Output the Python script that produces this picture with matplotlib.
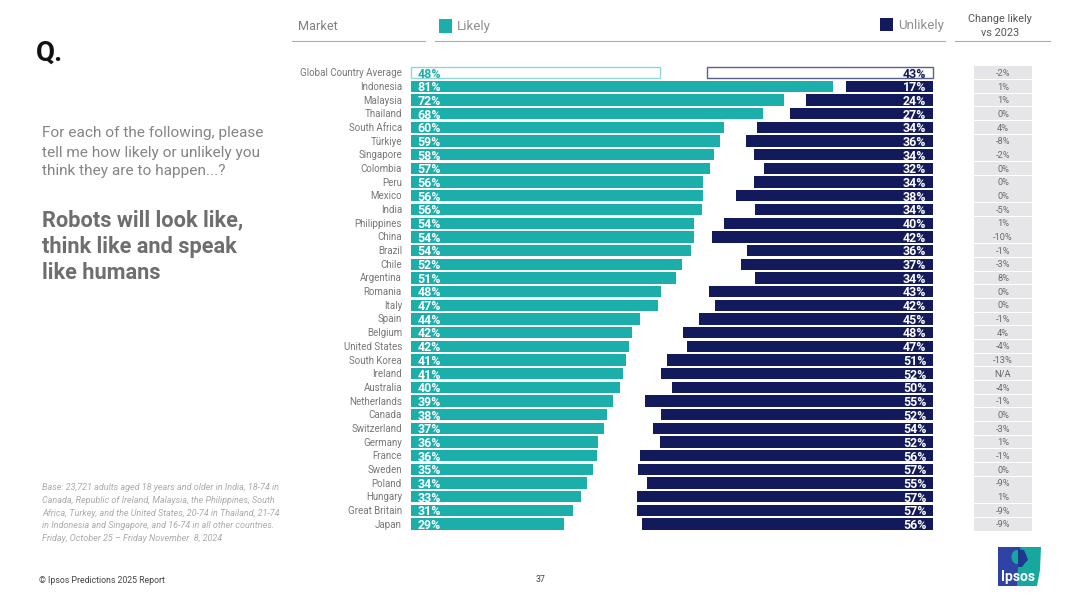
import matplotlib
matplotlib.use("Agg")
import matplotlib.pyplot as plt
from matplotlib.patches import Rectangle, Polygon, Ellipse

markets = ["Global Country Average","Indonesia","Malaysia","Thailand","South Africa","Türkiye","Singapore","Colombia","Peru","Mexico","India","Philippines","China","Brazil","Chile","Argentina","Romania","Italy","Spain","Belgium","United States","South Korea","Ireland","Australia","Netherlands","Canada","Switzerland","Germany","France","Sweden","Poland","Hungary","Great Britain","Japan"]
likely = [47.8,81.0,71.6,67.6,60.1,59.3,58.2,57.4,56.0,56.0,55.8,54.3,54.3,53.7,52.0,50.9,48.0,47.45,44.0,42.4,41.8,41.3,40.6,40.1,38.8,37.6,37.0,35.9,35.7,34.9,33.8,32.6,31.1,29.3]
unlikely = [43.4,16.7,24.4,27.45,33.8,35.9,34.4,32.4,34.4,37.8,34.2,40.1,42.4,35.7,36.9,34.2,43.0,41.8,44.9,48.0,47.2,51.0,52.2,50.1,55.3,52.2,53.7,52.4,56.2,56.6,54.9,56.8,56.8,55.9]
change = ["-2%","1%","1%","0%","4%","-8%","-2%","0%","0%","0%","-5%","1%","-10%","-1%","-3%","8%","0%","0%","-1%","4%","-4%","-13%","N/A","-4%","-1%","0%","-3%","1%","-1%","0%","-9%","1%","-9%","-9%"]

TEAL = "#1CAEAB"; NAVY = "#131A5B"
W, H = 1080, 607
plt.rcParams['font.family'] = ['Roboto', 'DejaVu Sans']
fig = plt.figure(figsize=(W/100, H/100), dpi=100)

def mkax(x0, x1, xlim):
    ax = fig.add_axes([x0/W, 1-531/H, (x1-x0)/W, (531-66)/H])
    ax.set_xlim(*xlim)
    # row i sits at pixel 72.7 + 13.68*i
    ax.set_ylim((531-72.7)/13.68, (66-72.7)/13.68)
    ax.axis("off")
    return ax

SCALE = 5.21
axC = mkax(974, 1032, (0, 1))
axL = mkax(411, 411+SCALE*100, (0, 100))
axU = mkax(933-SCALE*100, 933, (100, 0))
rows = range(len(markets))
for i in rows:
    first = i == 0
    axL.barh(i, likely[i], height=11.3/13.68, facecolor="white" if first else TEAL,
             edgecolor="#8fd8d6" if first else TEAL, linewidth=1 if first else 0, clip_on=False)
    axU.barh(i, unlikely[i], height=11.3/13.68, facecolor="white" if first else NAVY,
             edgecolor="#5a5f8c" if first else NAVY, linewidth=1 if first else 0, clip_on=False)
    axL.text(1.3, i+0.1, f"{likely[i]:.0f}%", color=TEAL if first else "white", va="center", ha="left",
             fontsize=8.9, fontweight="bold", clip_on=False)
    axU.text(1.3, i+0.1, f"{unlikely[i]:.0f}%", color=NAVY if first else "white", va="center", ha="right",
             fontsize=8.9, fontweight="bold", clip_on=False)
    axL.annotate(markets[i], (0, i+0.04), xytext=(-9, 0), textcoords="offset pixels", ha="right", va="center",
                 fontsize=7.0, color="#777777", annotation_clip=False)
    axC.barh(i, 1, height=12.8/13.68, color="#E6E6E9", linewidth=0)
    axC.text(0.5, i+0.05, change[i], ha="center", va="center", fontsize=6.7, color="#6a6a6a")

def T(x, y, s, **kw):
    kw.setdefault("va", "center")
    return fig.text(x/W, 1-y/H, s, **kw)

def hline(x0, x1, y, c="#a3aeb1", lw=0.8):
    fig.add_artist(plt.Line2D([x0/W, x1/W], [1-y/H, 1-y/H], color=c, lw=lw))

def rect(x, y, w, h, c, **kw):
    fig.add_artist(Rectangle((x/W, 1-(y+h)/H), w/W, h/H, facecolor=c, edgecolor="none", transform=fig.transFigure, **kw))

T(298, 26.5, "Market", fontsize=9.2, color="#808080")
T(457, 26.5, "Likely", fontsize=9.7, color="#909090")
rect(438.5, 19, 13.5, 13.5, TEAL)
rect(879.5, 18, 13, 13, NAVY)
T(898, 25.5, "Unlikely", fontsize=9.6, color="#909090")
T(1000, 19.5, "Change likely", fontsize=7.8, color="#555555", ha="center")
T(1000, 33, "vs 2023", fontsize=7.8, color="#555555", ha="center")
hline(292, 425, 41); hline(435, 945, 41); hline(955, 1050, 41)

T(36, 53.5, "Q.", fontsize=20, fontweight="bold", color="#111111")
for y, s in zip((133.5, 152.5, 171), ("For each of the following, please", "tell me how likely or unlikely you", "think they are to happen...?")):
    T(42, y, s, fontsize=11.1, color="#858585")
for y, s in zip((220, 246.5, 273), ("Robots will look like,", "think like and speak", "like humans")):
    T(42, y, s, fontsize=15.7, fontweight="bold", color="#6e6e6e")
base = ["Base: 23,721 adults aged 18 years and older in India, 18-74 in",
        "Canada, Republic of Ireland, Malaysia, the Philippines, South",
        "Africa, Turkey, and the United States, 20-74 in Thailand, 21-74",
        "in Indonesia and Singapore, and 16-74 in all other countries.",
        "Friday, October 25 – Friday November  8, 2024"]
for i, s in enumerate(base):
    T(42, 488 + 12.55*i, s, fontsize=6.45, style="italic", color="#ababab")
T(39, 580.5, "© Ipsos Predictions 2025 Report", fontsize=6.3, color="#444444")
T(540, 580, "37", fontsize=6.3, color="#444444", ha="center")

# Ipsos logo
def poly(pts, c):
    fig.add_artist(Polygon([(x/W, 1-y/H) for x, y in pts], closed=True, facecolor=c, edgecolor="none", transform=fig.transFigure))
def ell(x, y, w, h, c):
    fig.add_artist(Ellipse((x/W, 1-y/H), w/W, h/H, facecolor=c, edgecolor="none", transform=fig.transFigure))
poly([(998, 547), (1041, 547), (1040, 570), (1037, 586), (998, 586)], "#16A79E")
poly([(998, 547), (1021, 547), (1018, 552), (1018, 567), (1017, 586), (998, 586)], "#2F43A6")
ell(1017, 557, 11, 14, "#16A79E")
poly([(1018, 549), (1024, 550), (1027, 557), (1028, 560), (1025, 563), (1022, 567), (1018, 567)], "#1B3A8E")
T(1018.5, 576.5, "Ipsos", fontsize=10, fontweight="bold", color="white", ha="center")

fig.savefig("out.png", dpi=100)
